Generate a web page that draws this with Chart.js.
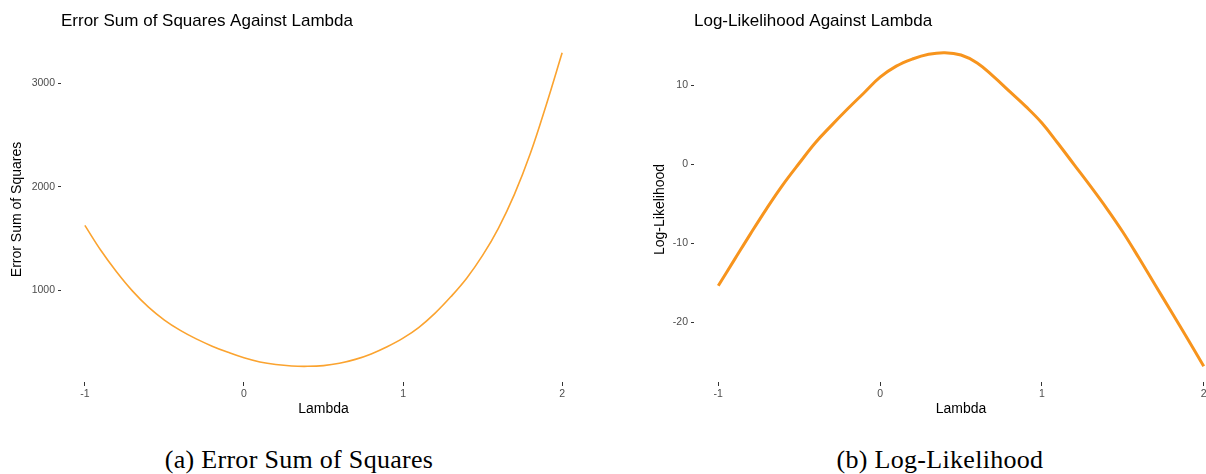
<!DOCTYPE html>
<html>
<head>
<meta charset="utf-8">
<script src="https://cdn.jsdelivr.net/npm/chart.js@4"></script>
<style>
  html, body { margin: 0; padding: 0; background: #fff; }
  body { width: 1206px; height: 474px; overflow: hidden; position: relative; }
  .panel { position: absolute; top: 0; height: 430px; }
  #left { left: 0; width: 600px; }
  #right { left: 600px; width: 660px; }
  .caption {
    position: absolute; top: 445px; transform: translateX(-50%);
    font-family: "Liberation Serif", serif; font-size: 26px; color: #000;
    white-space: nowrap; letter-spacing: 0.3px;
  }
</style>
</head>
<body>
<div class="panel" id="left"><canvas id="sseChart"></canvas></div>
<div class="panel" id="right"><canvas id="llChart"></canvas></div>
<div class="caption" style="left:299px">(a) Error Sum of Squares</div>
<div class="caption" style="left:940px">(b) Log-Likelihood</div>

<script>
// lambda grid and the two profile curves
const lambdaValues = [-1.0, -0.9, -0.8, -0.7, -0.6, -0.5, -0.4, -0.3, -0.2, -0.1,
  0.0, 0.1, 0.2, 0.3, 0.4, 0.5, 0.6, 0.7, 0.8, 0.9,
  1.0, 1.1, 1.2, 1.3, 1.4, 1.5, 1.6, 1.7, 1.8, 1.9, 2.0];
const sseValues = [1625, 1385, 1175, 990, 835, 710, 610, 528, 458, 398,
  345, 305, 280, 266, 263, 270, 292, 330, 383, 452,
  535, 640, 775, 935, 1115, 1335, 1600, 1925, 2320, 2790, 3295];
const logLikValues = [-15.4, -12.1, -8.8, -5.6, -2.6, 0.1, 2.7, 4.9, 7.0, 9.0,
  11.0, 12.4, 13.3, 13.9, 14.1, 13.8, 12.8, 11.1, 9.2, 7.3,
  5.2, 2.6, -0.1, -2.8, -5.6, -8.6, -11.9, -15.3, -18.7, -22.1, -25.6];

const lambdaTicks = [-1, 0, 1, 2];
const sseTicks = [1000, 2000, 3000];
const logLikTicks = [-20, -10, 0, 10];

// ggplot-like 5% expansion of a range
function expand(vals) {
  const lo = Math.min(...vals), hi = Math.max(...vals);
  const pad = (hi - lo) * 0.05;
  return { min: lo - pad, max: hi + pad };
}

// title drawn flush with the panel's left edge, like ggplot
const panelTitle = {
  id: 'panelTitle',
  afterDraw(chart, args, opts) {
    const ctx = chart.ctx;
    ctx.save();
    ctx.font = '17px "Liberation Sans", Arial, sans-serif';
    ctx.fillStyle = '#000';
    ctx.textBaseline = 'alphabetic';
    ctx.textAlign = 'left';
    ctx.fillText(opts.text, chart.chartArea.left, 26);
    ctx.restore();
  }
};

function makeChart(canvasId, cfg) {
  const xr = expand(lambdaValues);
  const yr = expand(cfg.values);
  const tickFont = { family: '"Liberation Sans", Arial, sans-serif', size: 10.5 };
  const titleFont = { family: '"Liberation Sans", Arial, sans-serif', size: 14 };

  return new Chart(document.getElementById(canvasId), {
    type: 'line',
    data: {
      datasets: [{
        data: lambdaValues.map((x, i) => ({ x: x, y: cfg.values[i] })),
        borderColor: cfg.color,
        borderWidth: cfg.width,
        pointRadius: 0,
        tension: 0.4,
        fill: false
      }]
    },
    options: {
      responsive: true,
      maintainAspectRatio: false,
      animation: false,
      layout: { padding: { left: 0, top: 37, right: cfg.padRight, bottom: 12 } },
      plugins: {
        legend: { display: false },
        tooltip: { enabled: false },
        panelTitle: { text: cfg.title }
      },
      scales: {
        x: {
          type: 'linear',
          min: xr.min,
          max: xr.max,
          afterBuildTicks: s => { s.ticks = lambdaTicks.map(v => ({ value: v })); },
          afterFit: s => { s.height = 36; },
          border: { display: false },
          grid: { drawOnChartArea: false, drawTicks: true, tickLength: 4, color: '#333', lineWidth: 1 },
          ticks: { color: '#4d4d4d', font: tickFont, padding: 2, maxRotation: 0,
                   callback: v => String(v) },
          title: { display: true, text: 'Lambda', color: '#000', font: titleFont, padding: 0 }
        },
        y: {
          min: yr.min,
          max: yr.max,
          afterBuildTicks: s => { s.ticks = cfg.ticks.map(v => ({ value: v })); },
          afterFit: s => { s.width = cfg.axisWidth; },
          border: { display: false },
          grid: { drawOnChartArea: false, drawTicks: true, tickLength: 3, color: '#333', lineWidth: 1 },
          ticks: { color: '#4d4d4d', font: tickFont, padding: 3,
                   callback: v => String(v) },
          title: { display: true, text: cfg.yTitle, color: '#000', font: titleFont,
                   padding: { top: cfg.yTitlePad, bottom: 0 } }
        }
      }
    },
    plugins: [panelTitle]
  });
}

makeChart('sseChart', {
  values: sseValues,
  ticks: sseTicks,
  title: 'Error Sum of Squares Against Lambda',
  yTitle: 'Error Sum of Squares',
  color: '#fba32f',
  width: 1.6,
  axisWidth: 61,
  padRight: 14,
  yTitlePad: 9
});

makeChart('llChart', {
  values: logLikValues,
  ticks: logLikTicks,
  title: 'Log-Likelihood Against Lambda',
  yTitle: 'Log-Likelihood',
  color: '#f7941d',
  width: 3,
  axisWidth: 94,
  padRight: 32,
  yTitlePad: 52
});
</script>
</body>
</html>
